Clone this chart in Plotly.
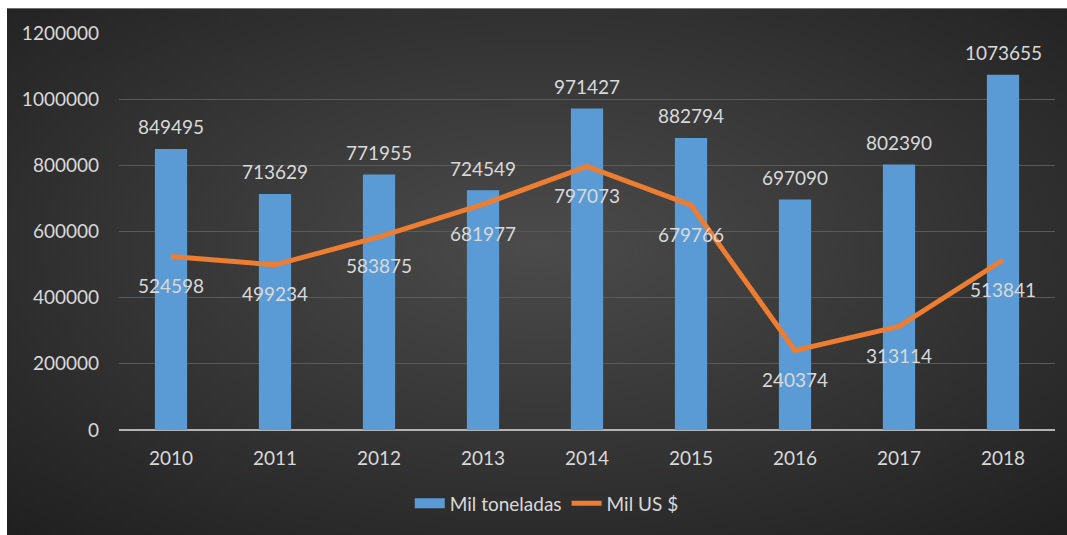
import base64
import plotly.graph_objects as go

# Chart data
years = ["2010", "2011", "2012", "2013", "2014", "2015", "2016", "2017", "2018"]
mil_toneladas = [849495, 713629, 771955, 724549, 971427, 882794, 697090, 802390, 1073655]
mil_usd = [524598, 499234, 583875, 681977, 797073, 679766, 240374, 313114, 513841]
y_ticks = [0, 200000, 400000, 600000, 800000, 1000000, 1200000]

TEXT = "#d9d9d9"
FONT = "Lato"
FS = 19
BAR = "#5B9BD5"
LINE = "#ED7D31"

W, H = 1067, 535
ML, MR, MT, MB = 119, 12, 33, 103
PW, PH = W - ML - MR, H - MT - MB

# Radial gradient backdrop for the dark chart panel
svg = (
    '<svg xmlns="http://www.w3.org/2000/svg" width="1000" height="500" preserveAspectRatio="none">'
    '<defs><radialGradient id="g" cx="50%" cy="45%" r="75%">'
    '<stop offset="0%" stop-color="#4b4b4b"/>'
    '<stop offset="100%" stop-color="#1f1f1f"/>'
    '</radialGradient></defs>'
    '<rect width="1000" height="500" fill="url(#g)"/></svg>'
)
bg_src = "data:image/svg+xml;base64," + base64.b64encode(svg.encode()).decode()

# Panel extents in paper coordinates (panel starts a few pixels in from top-left)
px0, py0 = 7, 8
bx = (px0 - ML) / PW
by = (MT + PH - py0) / PH
bw = (W - px0 + 4) / PW
bh = (H - py0 + 4) / PH

fig = go.Figure()
fig.add_trace(go.Bar(
    x=years, y=mil_toneladas, name="Mil toneladas", showlegend=False,
    marker=dict(color=BAR, line=dict(width=0)), width=0.31,
))
# Legend key for the bars drawn as a wide flat swatch
fig.add_trace(go.Scatter(
    x=[None], y=[None], name="Mil toneladas", mode="lines",
    line=dict(color=BAR, width=10),
))
fig.add_trace(go.Scatter(
    x=years, y=mil_usd, name="Mil US $", mode="lines",
    line=dict(color=LINE, width=5),
))

# Value labels: numeric-looking category names would be read as indices,
# so annotations are positioned by category index.
annotations = []
for i, v in enumerate(mil_toneladas):
    annotations.append(dict(x=i, y=v, text=str(v), showarrow=False, yshift=22,
                            font=dict(color=TEXT, size=FS, family=FONT)))
for i, v in enumerate(mil_usd):
    annotations.append(dict(x=i, y=v, text=str(v), showarrow=False, yshift=-29,
                            font=dict(color=TEXT, size=FS, family=FONT)))

fig.update_layout(
    width=W, height=H,
    margin=dict(l=ML, r=MR, t=MT, b=MB),
    paper_bgcolor="white",
    plot_bgcolor="rgba(0,0,0,0)",
    font=dict(family=FONT, size=FS, color=TEXT),
    showlegend=True,
    legend=dict(orientation="h", x=0.457, xanchor="center", y=-0.185, yanchor="middle",
                bgcolor="rgba(0,0,0,0)", font=dict(size=FS, color=TEXT, family=FONT),
                traceorder="normal", itemwidth=30),
    annotations=annotations,
    images=[dict(source=bg_src, xref="paper", yref="paper", x=bx, y=by,
                 sizex=bw, sizey=bh, xanchor="left", yanchor="top",
                 sizing="stretch", layer="below")],
    xaxis=dict(type="category", categoryorder="array", categoryarray=years,
               range=[-0.5, len(years) - 0.5],
               showgrid=False, showline=False, zeroline=False, ticks="",
               tickfont=dict(size=FS, color=TEXT, family=FONT), ticklabelstandoff=15),
    yaxis=dict(range=[0, 1200000], tickvals=y_ticks, ticktext=[str(t) for t in y_ticks],
               showgrid=True, gridcolor="#5a5a5a", gridwidth=1,
               zeroline=True, zerolinecolor="#b3b3b3", zerolinewidth=2,
               showline=False, ticks="", ticklabelstandoff=19,
               tickfont=dict(size=FS, color=TEXT, family=FONT)),
)

fig.write_html("out.html")
